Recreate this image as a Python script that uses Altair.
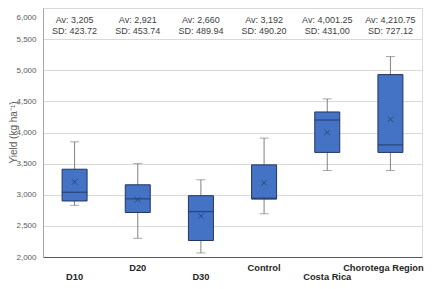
import altair as alt
import pandas as pd

categories = ["D10", "D20", "D30", "Control", "Costa Rica", "Chorotega Region"]
whisker_low = [2830, 2300, 2065, 2695, 3390, 3390]
q1 = [2900, 2715, 2265, 2930, 3680, 3680]
median = [3040, 2935, 2730, 2945, 4200, 3800]
q3 = [3410, 3160, 2985, 3480, 4330, 4930]
whisker_high = [3850, 3500, 3240, 3910, 4540, 5220]
mean = [3205, 2921, 2660, 3192, 4001.25, 4210.75]
av_text = ["Av: 3,205", "Av: 2,921", "Av: 2,660", "Av: 3,192", "Av: 4,001.25", "Av: 4,210.75"]
sd_text = ["SD: 423.72", "SD: 453.74", "SD: 489.94", "SD: 490.20", "SD: 431,00", "SD: 727.12"]
y_ticks = [2000, 2500, 3000, 3500, 4000, 4500, 5000, 5500, 6000]

df = pd.DataFrame({
    "cat": categories, "lo": whisker_low, "q1": q1, "med": median,
    "q3": q3, "hi": whisker_high, "mean": mean, "av": av_text, "sd": sd_text,
})

FONT = "Liberation Sans"
NAVY = "#23365f"
FILL = "#4472C4"
GRAY = "#808080"
TITLE = "Yield (kg ha⁻¹)"

x = alt.X("cat:N", sort=categories, title=None,
          scale=alt.Scale(domain=categories, paddingInner=0, paddingOuter=0),
          axis=alt.Axis(
              labelAngle=0, labelFont=FONT, labelFontSize=9.3, labelFontWeight="bold",
              labelColor="#262626", ticks=False, domainColor="#595959", domainWidth=1,
              labelBaseline="top",
              labelPadding={"condition": {"test": "indexof(['D10','D30','Costa Rica'], datum.value) >= 0", "value": 15}, "value": 6},
              labelOffset={"condition": {"test": "datum.value == 'Chorotega Region'", "value": -7}, "value": 0},
          ))

yscale = alt.Scale(domain=[2000, 6000], nice=False, zero=False)
yaxis = alt.Axis(values=y_ticks, tickCount=20, format=",d", labelFont=FONT, labelFontSize=8,
                 labelColor="#595959", ticks=False, domainColor="#a6a6a6",
                 gridColor="#d9d9d9", labelPadding=7, labelOverlap=False,
                 labelOffset={"condition": {"test": "datum.value == 6000", "value": 9}, "value": 0},
                 title=TITLE, titleFont=FONT, titleFontSize=10,
                 titleFontWeight="normal", titleColor="#595959",
                 titleX=-25, titleY=124, titleAngle=-90, titleBaseline="bottom",
                 titleAlign="center")


def Y(field):
    return alt.Y(field, scale=yscale, axis=yaxis, title=TITLE)


def YD(v):
    return alt.YDatum(v, scale=yscale, axis=yaxis, title=TITLE)


base = alt.Chart(df)

whisk = base.mark_rule(color=GRAY, strokeWidth=1).encode(
    x=x, y=Y("lo:Q"), y2="hi:Q")
cap_lo = base.mark_tick(color=GRAY, size=9, thickness=1).encode(x=x, y=Y("lo:Q"))
cap_hi = base.mark_tick(color=GRAY, size=9, thickness=1).encode(x=x, y=Y("hi:Q"))
box = base.mark_bar(size=25, fill=FILL, stroke=NAVY, strokeWidth=1).encode(
    x=x, y=Y("q1:Q"), y2="q3:Q")
med = base.mark_tick(color=NAVY, size=25, thickness=1.3).encode(x=x, y=Y("med:Q"))
mn = base.mark_point(shape="M-1,-1L1,1M1,-1L-1,1", size=30, filled=False,
                     color=NAVY, strokeWidth=1).encode(x=x, y=Y("mean:Q"))
t_av = base.mark_text(font=FONT, fontSize=9, color="#404040", baseline="middle").encode(
    x=x, y=YD(5810), text="av:N")
t_sd = base.mark_text(font=FONT, fontSize=9, color="#404040", baseline="middle").encode(
    x=x, y=YD(5635), text="sd:N")

chart = alt.layer(whisk, cap_lo, cap_hi, box, med, mn, t_av, t_sd).properties(
    width=379, height=249,
    autosize=alt.AutoSizeParams(type="none"),
    padding={"left": 35, "top": 0, "right": 2, "bottom": 24},
).configure_view(stroke=None).configure(background="white")

chart.save("out.html", embed_options={"renderer": "svg", "actions": False})
